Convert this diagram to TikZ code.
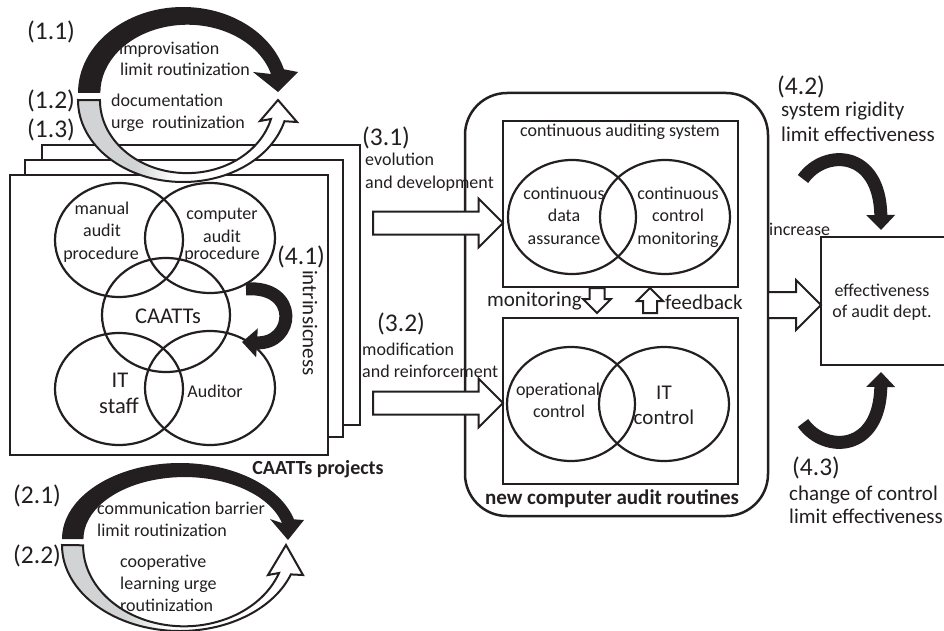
\documentclass[tikz,border=0pt]{standalone}
\usepackage{fontspec}
\setmainfont{Carlito}
\usetikzlibrary{arrows.meta,shapes.geometric,shapes.arrows,positioning}

\definecolor{ink}{HTML}{231F20}
\definecolor{greyfill}{HTML}{D1D3D4}
\pgfdeclarehorizontalshading{greyfade}{100bp}{color(0bp)=(greyfill); color(38bp)=(greyfill); color(47bp)=(white); color(100bp)=(white)}

\tikzset{
  txt/.style={font=\fontsize{18}{21}\selectfont, inner sep=0pt, text=ink},
  bigtxt/.style={font=\fontsize{21}{25}\selectfont, inner sep=0pt, text=ink},
  venntxt/.style={font=\fontsize{22.5}{26}\selectfont, inner sep=0pt, text=ink},
  lbl/.style={font=\fontsize{25.5}{30}\selectfont, inner sep=0pt, text=ink, anchor=base west},
  boldtxt/.style={font=\fontsize{20}{24}\bfseries\selectfont, inner sep=0pt, text=ink, anchor=base},
  venn/.style={draw=ink, ellipse, line width=2.2pt, inner sep=0pt, outer sep=0pt},
  page/.style={draw=ink, fill=white, line width=2pt, anchor=north west, inner sep=0pt, outer sep=0pt},
  box/.style={draw=ink, line width=2.5pt, anchor=north west, inner sep=0pt, outer sep=0pt},
  blockarr/.style={single arrow, draw=ink, fill=white, line width=2pt, single arrow tip angle=90, minimum width=0pt, outer sep=0pt, anchor=tip},
  bentarr/.style={draw=ink, line width=13pt, -{Triangle[length=15pt, width=28pt]}},
  loopwhite/.style={draw=ink, line width=2pt, shading=greyfade, line join=miter}
}

\begin{document}
\begin{tikzpicture}[x=1pt, y=-1pt]
\path[use as bounding box, clip] (0,0) rectangle (944,631);

% CAATTs projects, three stacked pages
\node[page, minimum width=318pt, minimum height=280pt] (page3) at (42,145) {};
\node[page, minimum width=318pt, minimum height=277pt] (page2) at (25,160) {};
\node[page, minimum width=318pt, minimum height=280pt] (page1) at (10,175) {};

\node[venn, minimum width=128pt, minimum height=114pt] (manual) at (119,240) {};
\node[venn, minimum width=130pt, minimum height=110pt] (computer) at (210,238) {};
\node[venn, minimum width=128pt, minimum height=114pt] (caatts) at (166,315) {};
\node[venn, minimum width=128pt, minimum height=112pt] (itstaff) at (119,389) {};
\node[venn, minimum width=130pt, minimum height=114pt] (auditor) at (210,388) {};

\node[txt, anchor=base] (man1) at (102,214) {manual};
\node[txt, anchor=base] (man2) at (102,236) {audit};
\node[txt, anchor=base] (man3) at (101,259) {procedure};
\node[txt, anchor=base] (com1) at (222,219) {computer};
\node[txt, anchor=base] (com2) at (222,242) {audit};
\node[txt, anchor=base] (com3) at (222,259) {procedure};
\node[venntxt, anchor=base] (caattstxt) at (168,323) {CAATTs};
\node[venntxt, anchor=base] (it1) at (120,387) {IT};
\node[venntxt, anchor=base] (it2) at (119,413) {staff};
\node[txt, anchor=base] (audtxt) at (215,397) {Auditor};
\node[boldtxt] (projects) at (318,474) {CAATTs projects};

% (4.1) intrinsicness
\node[lbl] (l41) at (277,264) {(4.1)};
\node[bigtxt, rotate=-90] (intr) at (310,323) {intrinsicness};
\coordinate (t41) at (246,289);
\coordinate (h41) at (242,342);
\draw[bentarr] (t41) .. controls (300,285) and (295,345) .. (h41);

% (1.1) (1.2) (1.3)
\node[lbl] (l11) at (27,40) {(1.1)};
\node[lbl] (l12) at (27,109) {(1.2)};
\node[lbl] (l13) at (27,138) {(1.3)};
\node[txt, anchor=base west] (impro) at (119,55) {improvisation};
\node[txt, anchor=base west] (limr1) at (120,76) {limit routinization};
\node[txt, anchor=base west] (docu) at (111,107) {documentation};
\node[txt, anchor=base west] (urge1) at (111,129) {urge~ routinization};
\fill[ink] (78,93) arc[start angle=180, end angle=16, x radius=105pt, y radius=86pt]
  -- (298,72) -- (278,92) -- (253,72) -- (271,74)
  arc[start angle=16, end angle=180, x radius=87pt, y radius=68pt] -- cycle;
\shadedraw[loopwhite] (78,100) arc[start angle=180, end angle=345, x radius=105pt, y radius=82pt]
  -- (297,122) -- (278,100) -- (260,121) -- (271,119)
  arc[start angle=345, end angle=180, x radius=87pt, y radius=73pt] -- cycle;

% (2.1) (2.2)
\node[lbl] (l21) at (13,503) {(2.1)};
\node[lbl] (l22) at (13,563) {(2.2)};
\node[txt, anchor=base west] (commb) at (97,514) {communication barrier};
\node[txt, anchor=base west] (limr2) at (97,536) {limit routinization};
\node[txt, anchor=base west] (coop) at (120,567) {cooperative};
\node[txt, anchor=base west] (learn) at (120,589) {learning urge};
\node[txt, anchor=base west] (rout) at (120,611) {routinization};
\fill[ink] (62,539) arc[start angle=180, end angle=15, x radius=118pt, y radius=76pt]
  -- (304,520) -- (288,540) -- (270,519) -- (282,523)
  arc[start angle=15, end angle=180, x radius=101pt, y radius=62pt] -- cycle;
\shadedraw[loopwhite] (62,545) arc[start angle=180, end angle=340, x radius=118pt, y radius=86pt]
  -- (303,575) -- (286,545) -- (268,575) -- (279,573)
  arc[start angle=340, end angle=180, x radius=101pt, y radius=81pt] -- cycle;

% (3.1) (3.2)
\node[lbl] (l31) at (362,146) {(3.1)};
\node[txt, anchor=base west] (evo1) at (365,166) {evolution};
\node[txt, anchor=base west] (evo2) at (365,188) {and development};
\node[lbl] (l32) at (377,331) {(3.2)};
\node[txt, anchor=base west] (mod1) at (362,355) {modification};
\node[txt, anchor=base west] (mod2) at (362,377) {and reinforcement};

% new computer audit routines
\node[box, rounded corners=42pt, minimum width=303pt, minimum height=423pt] (routines) at (465,93) {};
\node[box, minimum width=235pt, minimum height=166pt] (cas) at (503,121) {};
\node[box, minimum width=235pt, minimum height=166pt] (ctrl) at (503,318) {};
\node[txt, anchor=base] (castxt) at (620,137) {continuous auditing system};
\node[venn, minimum width=128pt, minimum height=114pt] (cda) at (572,217) {};
\node[venn, minimum width=130pt, minimum height=114pt] (ccm) at (665,217) {};
\node[txt, anchor=base] (cda1) at (564,199) {continuous};
\node[txt, anchor=base] (cda2) at (564,221) {data};
\node[txt, anchor=base] (cda3) at (564,244) {assurance};
\node[txt, anchor=base] (ccm1) at (678,199) {continuous};
\node[txt, anchor=base] (ccm2) at (678,221) {control};
\node[txt, anchor=base] (ccm3) at (678,244) {monitoring};
\node[venn, minimum width=128pt, minimum height=114pt] (opc) at (571,404) {};
\node[venn, minimum width=130pt, minimum height=114pt] (itc) at (664,404) {};
\node[txt, anchor=base] (opc1) at (558,395) {operational};
\node[txt, anchor=base] (opc2) at (559,417) {control};
\node[bigtxt, anchor=base] (itc1) at (664,399) {IT};
\node[bigtxt, anchor=base] (itc2) at (664,424) {control};
\node[boldtxt, font=\fontsize{21}{25}\bfseries\selectfont] (routtxt) at (612,504) {new computer audit routines};
\node[bigtxt, anchor=base east] (montxt) at (582,306) {monitoring};
\node[bigtxt, anchor=base west] (fbtxt) at (665,309) {feedback};

\node[blockarr, minimum height=130pt, inner sep=10.5pt, single arrow head extend=13pt] (evoarr) at (503,223) {};
\node[blockarr, minimum height=130pt, inner sep=10.5pt, single arrow head extend=13pt] (modarr) at (503,403) {};
\node[blockarr, minimum height=25pt, inner sep=6.5pt, single arrow head extend=6.5pt, shape border rotate=270] (monarr) at (597,313) {};
\node[blockarr, minimum height=25pt, inner sep=6pt, single arrow head extend=6pt, shape border rotate=90] (fbarr) at (650,288) {};

% effectiveness of audit dept.
\node[box, minimum width=150pt, minimum height=128pt] (eff) at (821,237) {};
\node[txt, anchor=base] (eff1) at (882,296) {effectiveness};
\node[txt, anchor=base] (eff2) at (882,317) {of audit dept.};
\node[blockarr, minimum height=53pt, inner sep=12pt, single arrow head extend=12pt] (incarr) at (821,305) {};
\node[txt, anchor=base west] (inctxt) at (769,235) {increase};

% (4.2) (4.3)
\node[lbl] (l42) at (777,95) {(4.2)};
\node[bigtxt, anchor=base west] (rig1) at (781,117) {system rigidity};
\node[bigtxt, anchor=base west] (rig2) at (781,142) {limit effectiveness};
\coordinate (t42) at (803,179);
\coordinate (h42) at (881,230);
\draw[bentarr] (t42) .. controls (825,148) and (880,150) .. (h42);
\node[lbl] (l43) at (792,475) {(4.3)};
\node[bigtxt, anchor=base west] (chg1) at (789,500) {change of control};
\node[bigtxt, anchor=base west] (chg2) at (789,523) {limit effectiveness};
\coordinate (t43) at (803,423);
\coordinate (h43) at (881,372);
\draw[bentarr] (t43) .. controls (825,454) and (880,452) .. (h43);
\end{tikzpicture}
\end{document}
